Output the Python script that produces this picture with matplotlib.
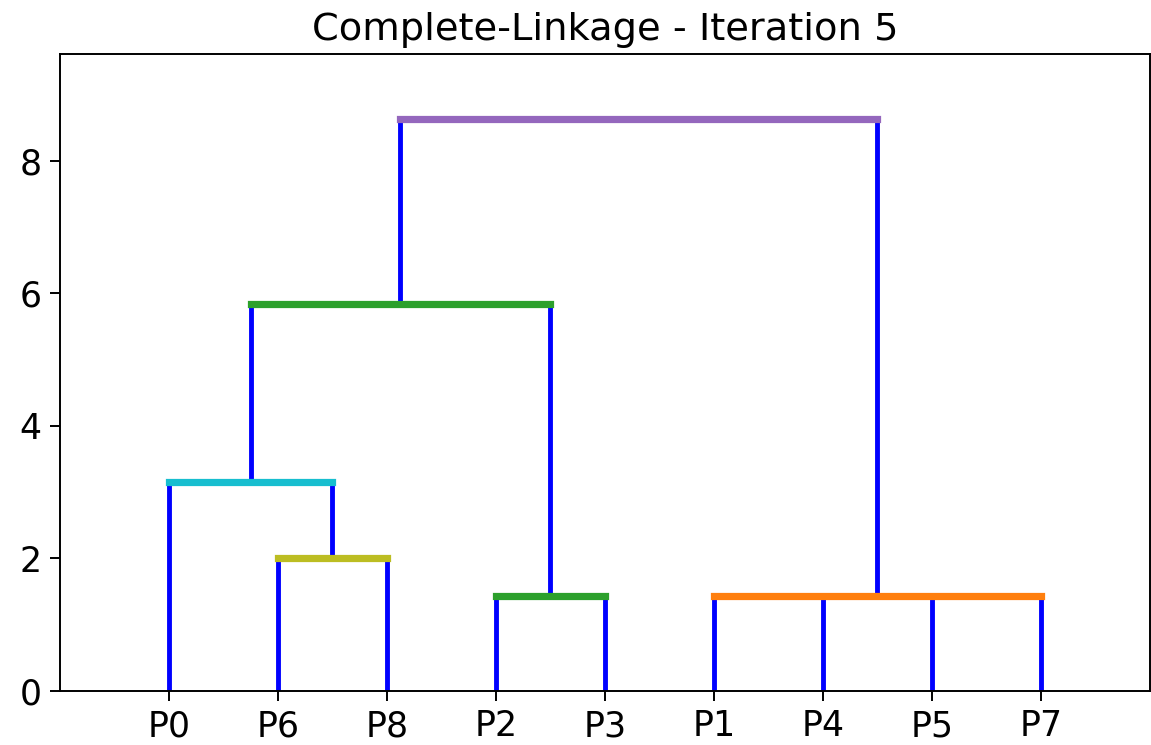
import matplotlib
matplotlib.use("Agg")
import matplotlib.pyplot as plt

# ---- data ----
leaves = ["P0", "P6", "P8", "P2", "P3", "P1", "P4", "P5", "P7"]
merge_names = ["A", "B", "C", "D", "E", "F"]
merge_children = [["P6", "P8"], ["P0", "A"], ["P2", "P3"],
                  ["P1", "P4", "P5", "P7"], ["B", "C"], ["E", "D"]]
merge_heights = [2.0, 3.15, 1.43, 1.43, 5.84, 8.63]
merge_colors = ["#bcbd22", "#17becf", "#2ca02c", "#ff7f0e", "#2ca02c", "#9467bd"]
title = "Complete-Linkage - Iteration 5"
yticks = [0, 2, 4, 6, 8]

# ---- figure ----
fig = plt.figure(figsize=(11.51, 7.45), dpi=100)
ax = fig.add_axes([0.052, 0.0725, 0.947, 0.855])

xpos = {name: i for i, name in enumerate(leaves)}
height = {name: 0.0 for name in leaves}
for name, ch, h in zip(merge_names, merge_children, merge_heights):
    xs = [xpos[c] for c in ch]
    xpos[name] = (min(xs) + max(xs)) / 2.0
    height[name] = h

for name, ch, h, col in zip(merge_names, merge_children, merge_heights, merge_colors):
    xs = [xpos[c] for c in ch]
    for c in ch:
        ax.plot([xpos[c], xpos[c]], [height[c], h], color="blue", lw=3.5,
                solid_capstyle="butt", zorder=2)
    ax.plot([min(xs), max(xs)], [h, h], color=col, lw=5.2,
            solid_capstyle="projecting", zorder=3)

ax.set_xlim(-1, len(leaves))
ax.set_ylim(0, 9.615)
ax.set_xticks(range(len(leaves)))
ax.set_xticklabels(leaves)
ax.set_yticks(yticks)
ax.tick_params(labelsize=25, length=7, width=1.4, pad=6)
for s in ax.spines.values():
    s.set_linewidth(1.4)
ax.set_title(title, fontsize=27.6, pad=10)

fig.savefig("out.png", dpi=100)
